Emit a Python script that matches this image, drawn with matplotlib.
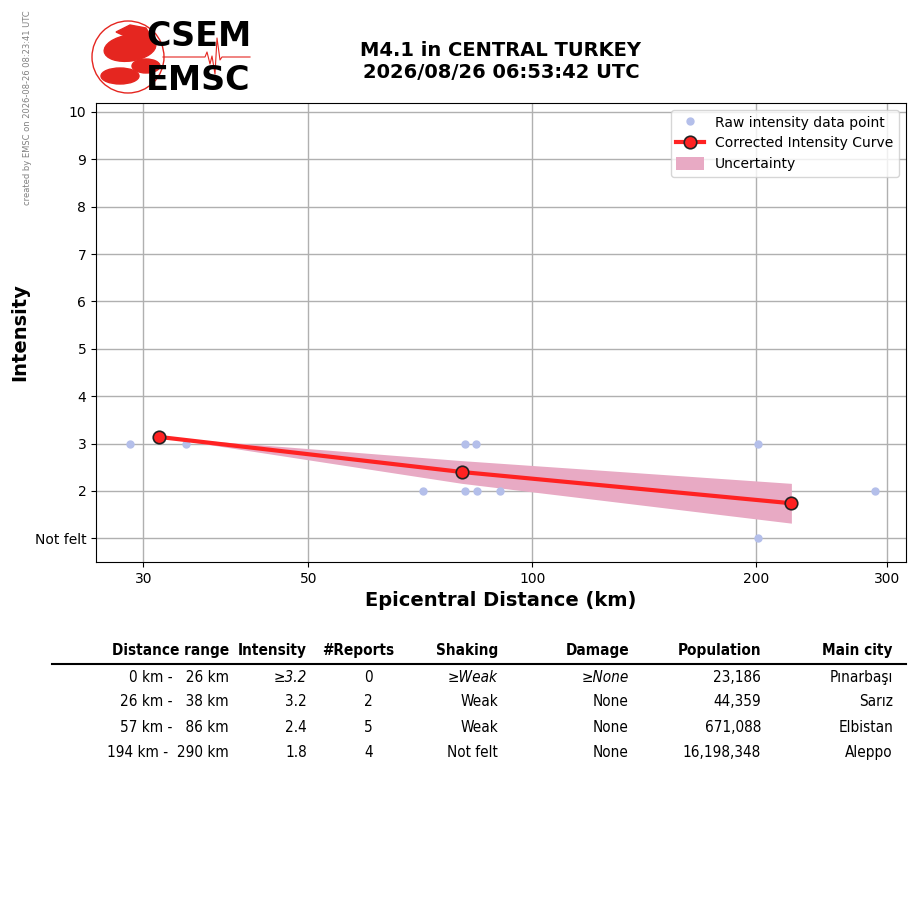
import matplotlib.pyplot as plt
from matplotlib.patches import Circle, Ellipse, Polygon

# raw intensity reports
raw_dist = [28.8, 34.2, 71.3, 81.1, 81.3, 84.1, 84.3, 90.4, 201.2, 201.2, 289.0]
raw_int = [3, 3, 2, 2, 3, 3, 2, 2, 3, 1, 2]

# corrected intensity curve
curve_dist = [31.5, 80.4, 223.0]
curve_int = [3.14, 2.40, 1.74]
curve_unc = [0.0, 0.24, 0.42]

yticks = [1, 2, 3, 4, 5, 6, 7, 8, 9, 10]
ytick_labels = ["Not felt", "2", "3", "4", "5", "6", "7", "8", "9", "10"]
xticks = [30, 50, 100, 200, 300]

# table
headers = ["Distance range", "Intensity", "#Reports", "Shaking", "Damage", "Population", "Main city"]
dist_lo = [0, 26, 57, 194]
dist_hi = [26, 38, 86, 290]
intensity = ["≥3.2", "3.2", "2.4", "1.8"]
reports = ["0", "2", "5", "4"]
shaking = ["≥Weak", "Weak", "Weak", "Not felt"]
damage = ["≥None", "None", "None", "None"]
population = [23186, 44359, 671088, 16198348]
cities = ["Pınarbaşı", "Sarız", "Elbistan", "Aleppo"]

fig = plt.figure(figsize=(9.15, 9.05), dpi=100)
ax = fig.add_axes([96 / 915, 1 - 562 / 905, 810 / 915, 459 / 905])

ax.plot(raw_dist, raw_int, "o", color="#b4bfea", markersize=5, label="Raw intensity data point", zorder=3)
lo = [c - u for c, u in zip(curve_int, curve_unc)]
hi = [c + u for c, u in zip(curve_int, curve_unc)]
ax.fill_between(curve_dist, lo, hi, color="#e8aac4", label="Uncertainty", zorder=2, lw=0)
ax.plot(curve_dist, curve_int, "-o", color="#ff2222", lw=3, markersize=9,
        markerfacecolor="#ff2222", markeredgecolor="#222222", markeredgewidth=1.2,
        label="Corrected Intensity Curve", zorder=4)

ax.set_xscale("log")
ax.set_xlim(25.9, 318)
ax.set_ylim(0.5, 10.19)
ax.set_xticks(xticks)
ax.set_xticklabels([str(t) for t in xticks])
ax.minorticks_off()
ax.set_yticks(yticks)
ax.set_yticklabels(ytick_labels)
ax.grid(True, color="#b0b0b0", lw=1)
ax.set_axisbelow(True)
ax.set_xlabel("Epicentral Distance (km)", fontsize=14, fontweight="bold")
ax.set_ylabel("Intensity", fontsize=14, fontweight="bold")

h, l = ax.get_legend_handles_labels()
order = [l.index("Raw intensity data point"), l.index("Corrected Intensity Curve"), l.index("Uncertainty")]
ax.legend([h[i] for i in order], [l[i] for i in order], loc="upper right", fontsize=10,
          handleheight=1.0)

fig.text(501 / 915, 1 - 61 / 905, "M4.1 in CENTRAL TURKEY\n2026/08/26 06:53:42 UTC",
         ha="center", va="center", fontsize=14, fontweight="bold")
fig.text(28 / 915, 1 - 108 / 905, "created by EMSC on 2026-08-26 08:23:41 UTC",
         rotation=90, ha="center", va="center", fontsize=6, color="gray")

# logo
red = "#e52620"
lg = fig.add_axes([88 / 915, 1 - 98 / 905, 166 / 915, 82 / 905])
lg.set_xlim(0, 166)
lg.set_ylim(82, 0)
lg.axis("off")
lg.add_patch(Circle((40, 41), 36, fill=False, ec=red, lw=1))
lg.add_patch(Ellipse((42, 32), 52, 26, angle=-8, color=red))
lg.add_patch(Ellipse((32, 60), 38, 16, color=red))
lg.add_patch(Ellipse((58, 50), 28, 14, color=red))
lg.add_patch(Polygon([[28, 16], [42, 9], [58, 12], [64, 22], [50, 26]], color=red))
lg.plot([75, 117, 119, 122, 124, 127, 129, 132, 134, 162],
        [41, 41, 36, 48, 40, 58, 22, 44, 41, 41], color=red, lw=0.8)
lg.text(58, 21, "CSEM", fontsize=24, fontweight="heavy", va="center", ha="left")
lg.text(58, 65, "EMSC", fontsize=24, fontweight="heavy", va="center", ha="left")

# table
tfont = dict(fontsize=11, family="DejaVu Sans", stretch="condensed")
col_x = [229, 307, 394, 498, 629, 761, 893]
val_x = [229, 307, 373, 498, 629, 761, 893]
for x, name in zip(col_x, headers):
    fig.text(x / 915, 1 - 651 / 905, name, ha="right", va="center", fontweight="bold", **tfont)
fig.add_artist(plt.Line2D([52 / 915, 906 / 915], [1 - 664 / 905, 1 - 664 / 905], color="black", lw=1.5))
for i in range(len(cities)):
    y = 1 - (677 + 25 * i) / 905
    row = [f"{dist_lo[i]:d} km - {dist_hi[i]:4d} km", intensity[i], reports[i], shaking[i],
           damage[i], f"{population[i]:,}", cities[i]]
    for j, (x, s) in enumerate(zip(val_x, row)):
        style = "italic" if i == 0 and j in (1, 3, 4) else "normal"
        fig.text(x / 915, y, s, ha="right", va="center", style=style, **tfont)

fig.savefig("out.png", dpi=100)
